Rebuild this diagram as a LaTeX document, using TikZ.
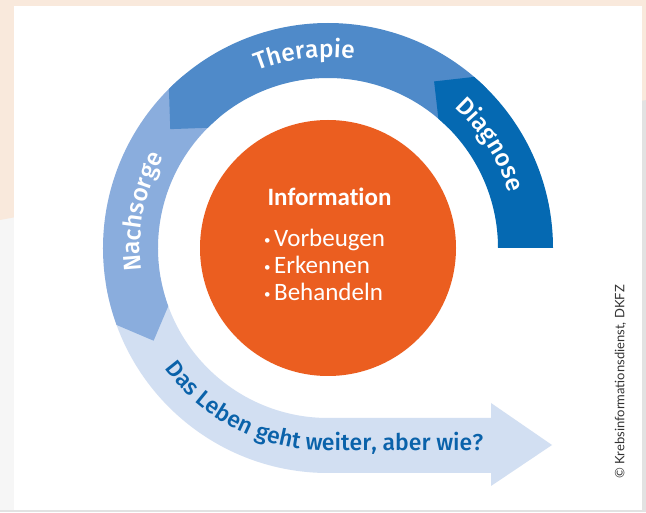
\documentclass[tikz,border=0pt]{standalone}
\usepackage{fontspec}
\setmainfont{Carlito}[Ligatures=NoCommon]
\IfFontExistsTF{Fira Sans Medium}
  {\newfontfamily\ringfont{Fira Sans Medium}}
  {\newfontfamily\ringfont{Fira Sans}[FakeBold=1.2]}
\newfontfamily\creditfont{Lato}
\usetikzlibrary{calc, positioning, decorations.text}

\definecolor{peach}{RGB}{249,233,220}
\definecolor{edgegrey}{RGB}{226,226,226}
\definecolor{sidegrey}{RGB}{246,246,246}
\definecolor{diagblue}{RGB}{5,105,178}
\definecolor{therblue}{RGB}{79,138,201}
\definecolor{nachblue}{RGB}{138,173,221}
\definecolor{lifeblue}{RGB}{210,223,242}
\definecolor{lifetext}{RGB}{10,98,170}
\definecolor{infoorange}{RGB}{235,94,32}

\newcommand{\Rout}{225}
\newcommand{\Rin}{170}
\newcommand{\Rmid}{197.5}

% one piece of the ring: colour, start angle, end angle (tip points on)
\newcommand{\ringpiece}[3]{%
  \fill[#1] ($(c)+(#2:\Rout)$) arc[start angle=#2, end angle=#3, radius=\Rout]
    -- ($(c)+(#3+8:\Rmid)$) -- ($(c)+(#3:\Rin)$)
    arc[start angle=#3, end angle=#2, radius=\Rin] -- cycle;}

% small bullet in front of the list items
\newcommand{\dotmark}{{\fontsize{13}{13}\selectfont\raisebox{2.4pt}{\textbullet}}\hspace{3.5pt}}

\tikzset{
  ringtext/.style={decorate, decoration={text along path, text align=center,
      text color=white, text={|\ringfont\fontsize{24.5}{26}\selectfont|#1}}},
  item/.style={anchor=base west, inner sep=0pt, text=white,
      font=\fontsize{25}{27}\selectfont},
}

\begin{document}
\begin{tikzpicture}[x=1pt, y=1pt]
\useasboundingbox (0,0) rectangle (646,512);

% page and card
\fill[sidegrey] (0,0) rectangle (646,512);
\fill[edgegrey] (642,0) rectangle (646,512);
\fill[edgegrey] (0,0) rectangle (646,2);
\fill[peach] (0,292) -- (0,512) -- (646,512) -- (646,412) -- cycle;
\fill[white] (14,2) rectangle (642,506);

\coordinate (c) at (328,264);

% life goes on
\fill[lifeblue] ($(c)+(190:\Rout)$) arc[start angle=190, end angle=270, radius=\Rout]
    -- (491,39) -- (491,26) -- (552,67) -- (491,109) -- (491,94)
    -- ($(c)+(270:\Rin)$) arc[start angle=270, end angle=190, radius=\Rin] -- cycle;

\ringpiece{nachblue}{130}{200}
\ringpiece{therblue}{45}{135}
\ringpiece{diagblue}{0}{49.5}

\path[ringtext=Therapie] ($(c)+(137:191)$) arc[start angle=137, end angle=57, radius=191];
\path[ringtext=Diagnose] ($(c)+(72.5:189)$) arc[start angle=72.5, end angle=-7.5, radius=189];
\path[ringtext=Nachsorge] ($(c)+(209:188)$) arc[start angle=209, end angle=129, radius=188];

\path[decorate, decoration={text along path, text color=lifetext,
    text={|\ringfont\fontsize{23}{25}\selectfont|Das Leben geht weiter, aber wie?}}]
    ($(c)+(216.5:203)$) arc[start angle=216.5, end angle=270, radius=203] -- ++(200,0);

% centre
\node[circle, fill=infoorange, minimum size=256pt, inner sep=0pt] (core) at (c) {};
\node[anchor=base, inner sep=0pt, text=white, font=\bfseries\fontsize{25}{27}\selectfont]
    (info) at (329.5,306) {Information};
\node[item] (prevent) at (264,265.3) {\dotmark Vorbeugen};
\node[item] (detect) at (264,238.2) {\dotmark Erkennen};
\node[item] (treat) at (264,211) {\dotmark Behandeln};

\node[rotate=90, text=black!80, font=\creditfont\fontsize{13}{15}\selectfont]
    (credit) at (620.5,130) {© Krebsinformationsdienst, DKFZ};

\end{tikzpicture}
\end{document}
